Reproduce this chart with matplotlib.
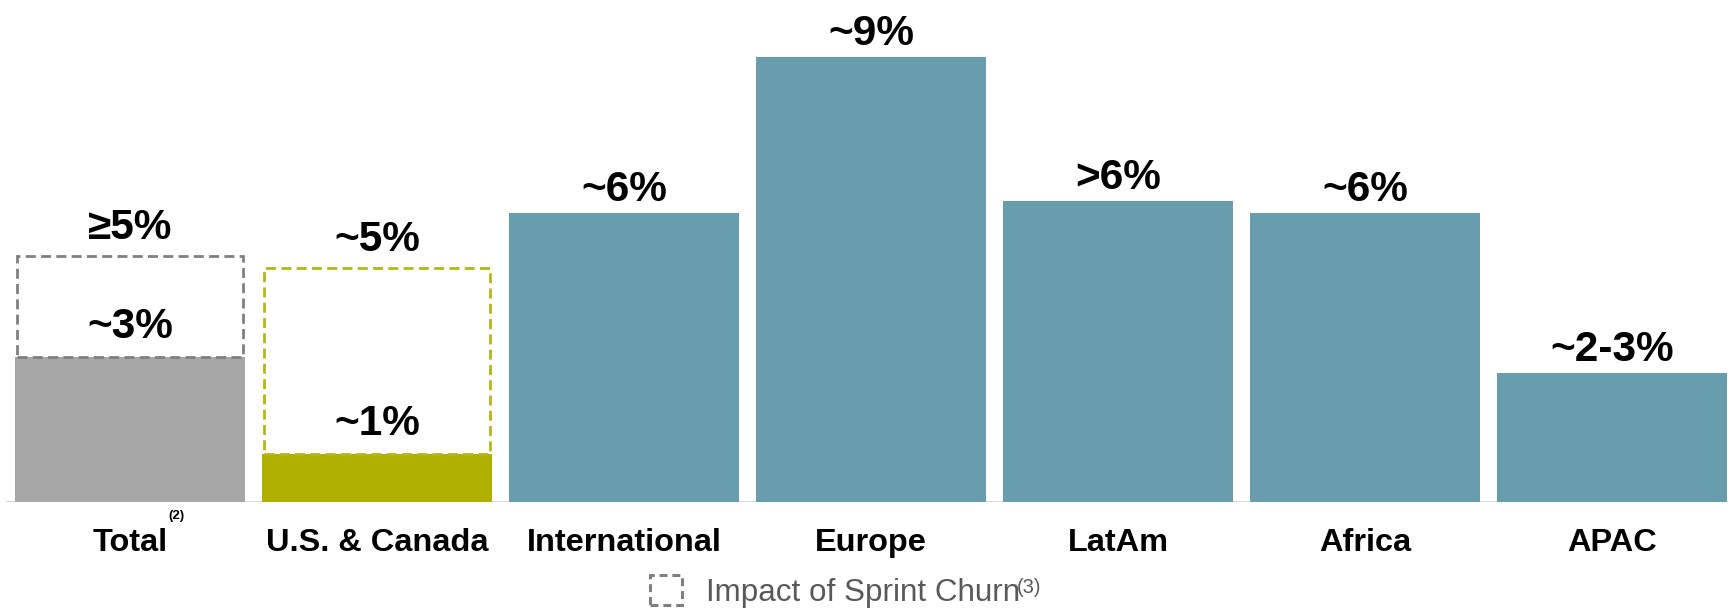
import matplotlib
matplotlib.use("Agg")
import matplotlib.pyplot as plt
from matplotlib.patches import Rectangle

plt.rcParams['font.family'] = ['Liberation Sans', 'DejaVu Sans']

# ---- data ----
categories = ["Total", "U.S. & Canada", "International", "Europe", "LatAm", "Africa", "APAC"]
base_values = [3.0, 1.0, 6.0, 9.23, 6.25, 6.0, 2.68]
value_labels = ["~3%", "~1%", "~6%", "~9%", ">6%", "~6%", "~2-3%"]
sprint_values = [5.1, 4.85]          # totals incl. Sprint churn impact (first two groups)
sprint_labels = ["\u22655%", "~5%"]
category_sup = {"Total": "(2)"}
legend_label = "Impact of Sprint Churn"
legend_sup = "(3)"

# ---- styles ----
bar_colors = ["#A6A6A6", "#AFAF00", "#689DAE", "#689DAE", "#689DAE", "#689DAE", "#689DAE"]
dash_colors = ["#808080", "#B5B51C"]

W, H = 1728, 608
fig = plt.figure(figsize=(W / 100, H / 100), dpi=100)
base_px = 502
ax = fig.add_axes([0, (H - base_px) / H, 1, base_px / H])
px_per_unit = 48.2
ax.set_ylim(0, base_px / px_per_unit)
spacing = 247.0
ax.set_xlim(-130 / spacing, 6 + (W - 130 - 6 * spacing) / spacing)
ax.axis("off")

width = 230 / spacing
x = list(range(len(categories)))

# baseline
ax.axhline(0, xmin=7 / W, xmax=1, color="#D9D9D9", lw=2.2, zorder=1)

ax.bar(x, base_values, width=width, color=bar_colors, zorder=2, linewidth=0)

# dashed sprint boxes
for i, (top, col) in enumerate(zip(sprint_values, dash_colors)):
    ax.bar(x[i], top - base_values[i], bottom=base_values[i], width=width * 0.985,
           fill=False, edgecolor=col, linewidth=2.0, linestyle=(0, (3.6, 1.9)), zorder=3)

lab_kw = dict(ha="center", va="baseline", fontsize=30.5, fontweight="bold", color="black",
              textcoords="offset pixels", zorder=4)
for i, (v, lab) in enumerate(zip(base_values, value_labels)):
    gap = 19 if i < 2 else 12
    ax.annotate(lab, xy=(x[i], v), xytext=(0, gap), **lab_kw)
for i, (v, lab) in enumerate(zip(sprint_values, sprint_labels)):
    ax.annotate(lab, xy=(x[i], v), xytext=(0, 17), **lab_kw)

# category labels
for i, cat in enumerate(categories):
    ax.annotate(cat, xy=(x[i], 0), xycoords=("data", "axes fraction"),
                xytext=(0, -(551 - base_px)), textcoords="offset pixels",
                ha="center", va="baseline", fontsize=23.4, fontweight="bold", color="black")
    if cat in category_sup:
        ax.annotate(category_sup[cat], xy=(x[i], 0), xycoords=("data", "axes fraction"),
                    xytext=(38, -(519 - base_px)), textcoords="offset pixels",
                    ha="left", va="baseline", fontsize=9.5, fontweight="bold", color="black")

# legend
icon = Rectangle((650 / W, (H - 605) / H), 32 / W, 30 / H, transform=fig.transFigure,
                 fill=False, edgecolor="#808080", linewidth=2.2, linestyle=(0, (2.6, 1.6)))
fig.add_artist(icon)
fig.text(706 / W, (H - 601) / H, legend_label, fontsize=22.6, color="#595959",
         ha="left", va="baseline")
fig.text(1017 / W, (H - 593) / H, legend_sup, fontsize=14.5, color="#595959",
         ha="left", va="baseline")

fig.savefig("out.png", dpi=100)
